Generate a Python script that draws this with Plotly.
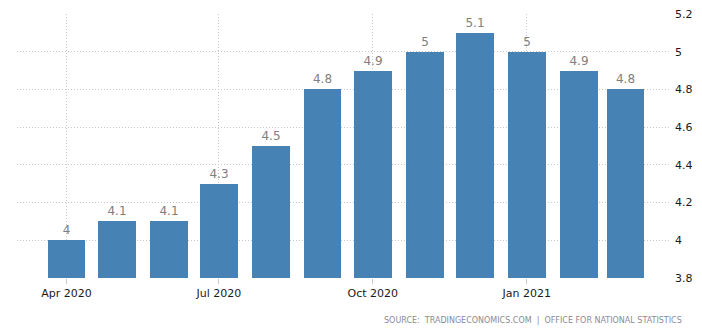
import plotly.graph_objects as go

months = ["2020-04-01", "2020-05-01", "2020-06-01", "2020-07-01", "2020-08-01", "2020-09-01",
          "2020-10-01", "2020-11-01", "2020-12-01", "2021-01-01", "2021-02-01", "2021-03-01"]
values = [4.0, 4.1, 4.1, 4.3, 4.5, 4.8, 4.9, 5.0, 5.1, 5.0, 4.9, 4.8]
labels = ["4", "4.1", "4.1", "4.3", "4.5", "4.8", "4.9", "5", "5.1", "5", "4.9", "4.8"]
x_ticks = ["2020-04-01", "2020-07-01", "2020-10-01", "2021-01-01"]
x_tick_text = ["Apr 2020", "Jul 2020", "Oct 2020", "Jan 2021"]
y_ticks = [3.8, 4.0, 4.2, 4.4, 4.6, 4.8, 5.0, 5.2]
y_tick_text = ["3.8", "4", "4.2", "4.4", "4.6", "4.8", "5", "5.2"]

DAY = 86400000
fig = go.Figure()
fig.add_trace(go.Bar(
    x=months, y=values, width=[22.6 * DAY] * len(values),
    marker=dict(color="#4682B4", line=dict(width=0)),
    text=labels, textposition="outside", cliponaxis=False,
    textfont=dict(family="DejaVu Sans", size=12, color="#808080"),
))

fig.update_layout(
    width=702, height=331,
    margin=dict(l=17, r=32, t=14, b=53),
    paper_bgcolor="white", plot_bgcolor="white",
    showlegend=False, bargap=0,
    font=dict(family="DejaVu Sans"),
    xaxis=dict(
        type="date", range=["2020-03-02 10:00", "2021-03-27 14:00"],
        tickvals=x_ticks, ticktext=x_tick_text, automargin=False,
        showgrid=True, gridcolor="#c8c8c8", griddash="1px,2px", gridwidth=1,
        ticks="outside", ticklen=5, tickcolor="#c8c8c8",
        tickfont=dict(family="DejaVu Sans", size=11, color="#1a1a1a"),
        showline=False, zeroline=False,
    ),
    yaxis=dict(
        range=[3.8, 5.2], side="right", tickvals=y_ticks, ticktext=y_tick_text,
        showgrid=True, gridcolor="#c8c8c8", griddash="1px,2px", gridwidth=1,
        tickfont=dict(family="DejaVu Sans", size=11, color="#1a1a1a"),
        ticks="", zeroline=False, showline=False, ticklabelstandoff=4,
        automargin=False,
    ),
)
fig.add_annotation(
    text="SOURCE:  TRADINGECONOMICS.COM  |  OFFICE FOR NATIONAL STATISTICS",
    xref="paper", yref="paper", x=1.0 + 14/653, y=-42/264, xanchor="right", yanchor="middle",
    showarrow=False, font=dict(family="DejaVu Sans", size=8, color="#8a8a9a"),
)
fig.write_html("out.html")
